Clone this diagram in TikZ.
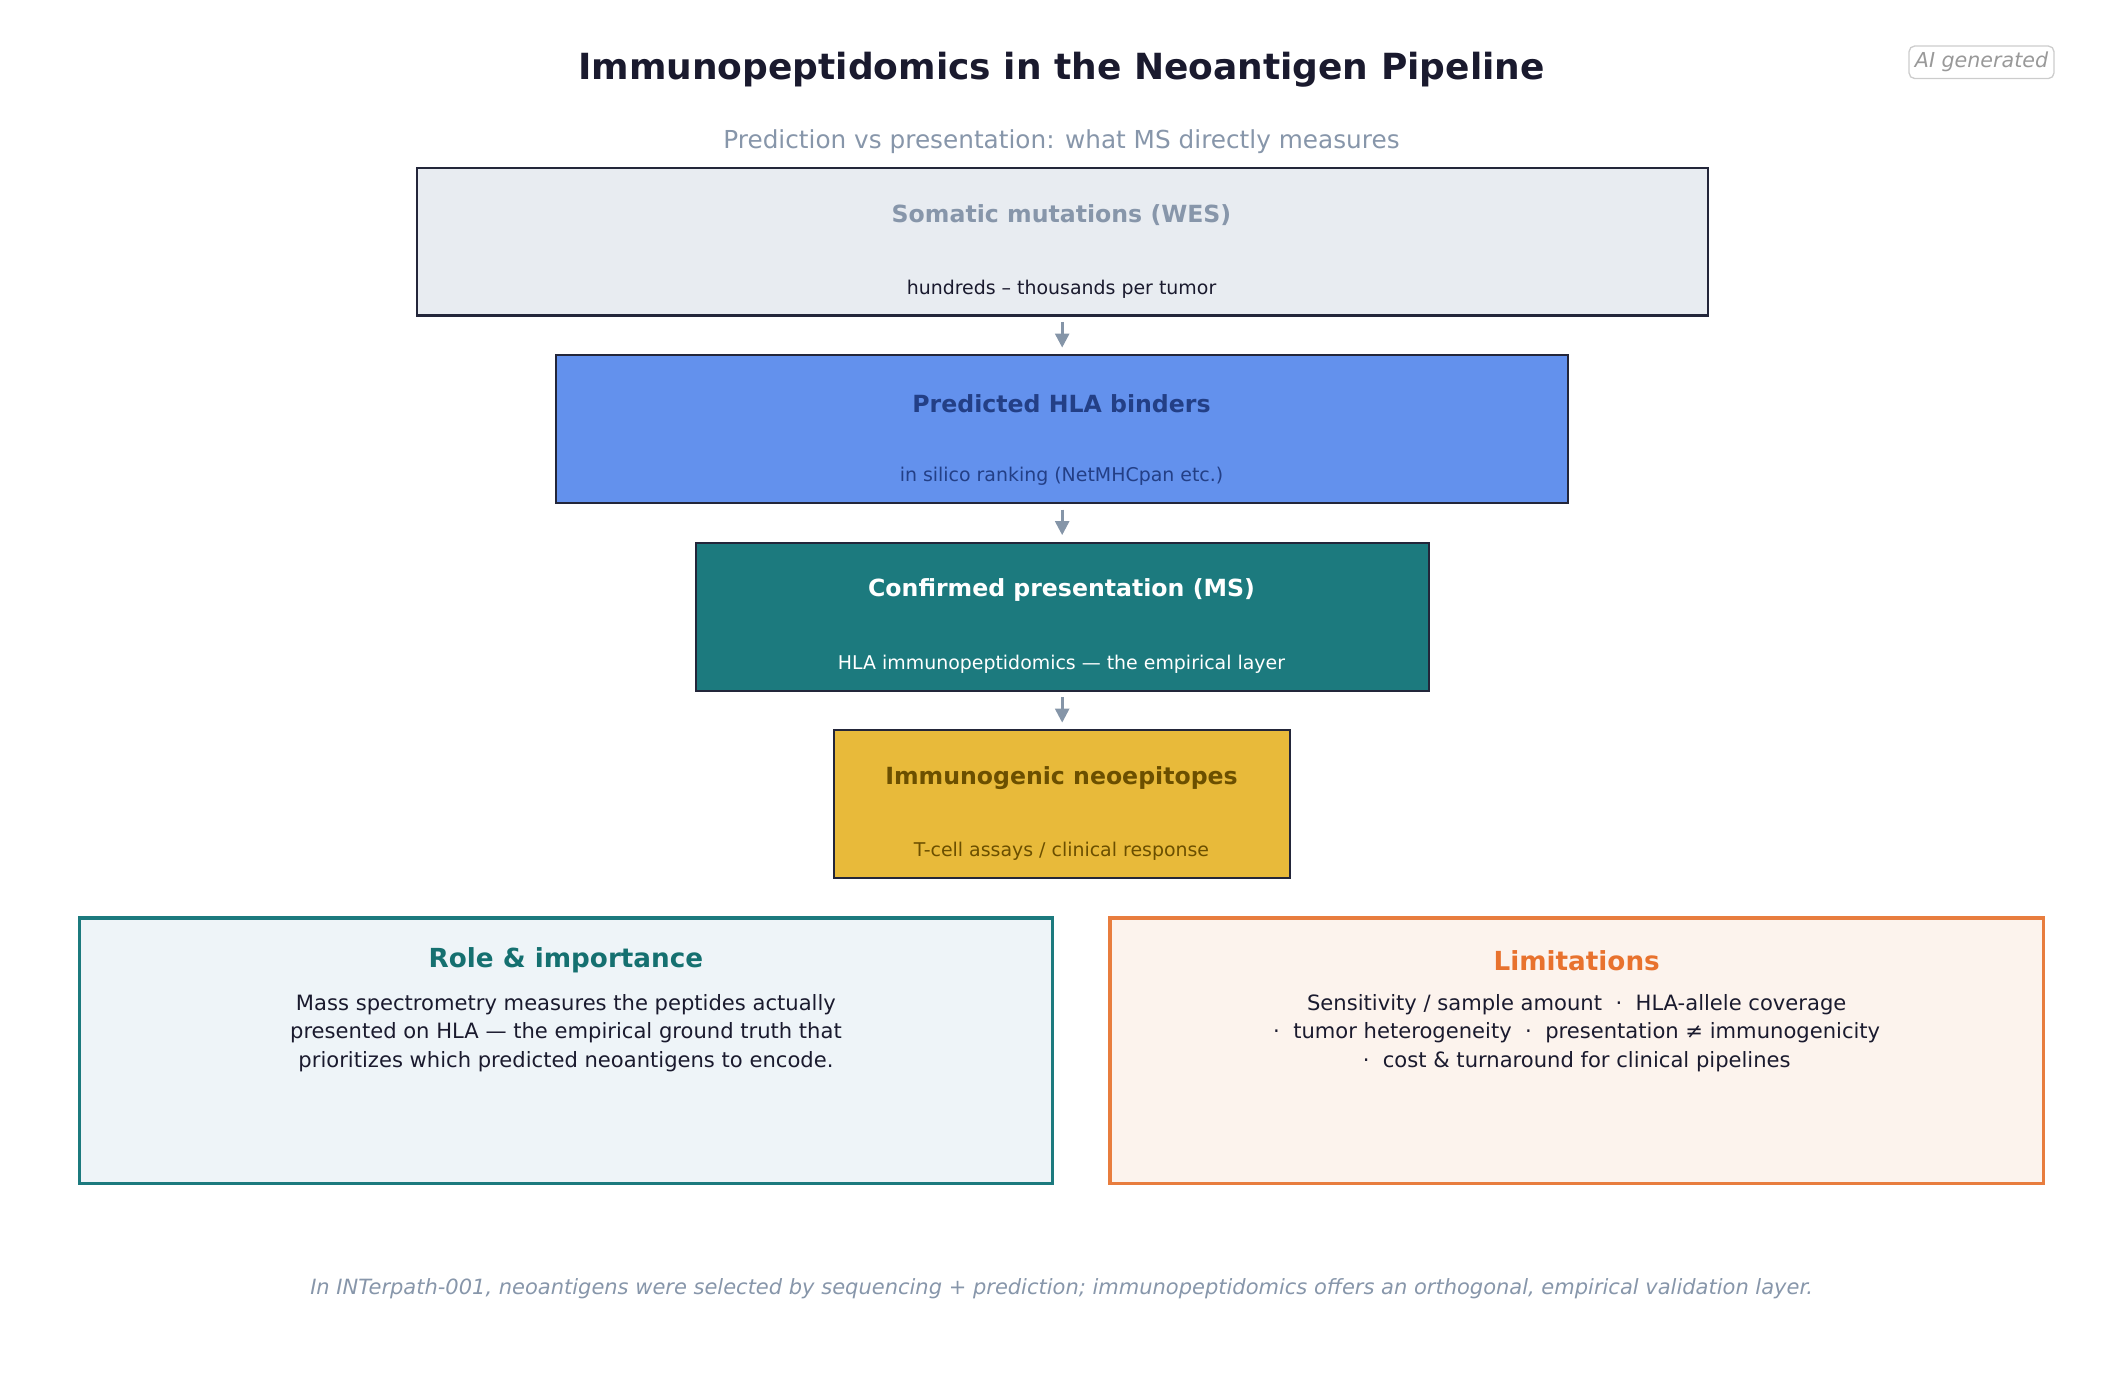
\documentclass[tikz,border=0pt]{standalone}
\usepackage{fontspec}
\setmainfont{DejaVu Sans}
\usepackage{xcolor}
\usetikzlibrary{positioning,shapes,arrows.meta}

\definecolor{ink}{HTML}{1A1A2E}
\definecolor{slate}{HTML}{8796AA}
\definecolor{edge}{HTML}{23263A}
\definecolor{wes}{HTML}{E8ECF1}
\definecolor{hla}{HTML}{6391ED}
\definecolor{hlaT}{HTML}{233F86}
\definecolor{ms}{HTML}{1C7A7E}
\definecolor{neo}{HTML}{E8BA3A}
\definecolor{neoT}{HTML}{6B4F00}
\definecolor{roleF}{HTML}{EEF4F8}
\definecolor{roleT}{HTML}{157070}
\definecolor{limF}{HTML}{FCF3ED}
\definecolor{limE}{HTML}{E87D3E}
\definecolor{limT}{HTML}{E8722E}
\definecolor{arrowc}{HTML}{8595A8}

\begin{document}
\begin{tikzpicture}[x=0.01in,y=-0.01in]
\useasboundingbox (0,0) rectangle (1568,1021.5);
\tikzstyle{stage}=[draw=edge,line width=1.1pt,minimum height=1.09in,inner sep=0pt]
\tikzstyle{head}=[inner sep=0pt,font=\bfseries\fontsize{12.6}{15}\selectfont]
\tikzstyle{sub}=[inner sep=0pt,font=\fontsize{10.1}{12}\selectfont]
\tikzstyle{panel}=[line width=1.8pt,minimum height=1.96in,inner sep=0pt]
\tikzstyle{ptitle}=[inner sep=0pt,font=\bfseries\fontsize{14}{17}\selectfont]
\tikzstyle{pbody}=[inner sep=0pt,align=center,text=ink,font=\fontsize{11.25}{15.1}\selectfont]
\tikzstyle{flow}=[draw=arrowc,line width=1.4pt,shorten <=2.9pt,shorten >=3.6pt,-{Triangle[length=7.5pt,width=7.5pt]}]

\node[text=ink,font=\bfseries\fontsize{19.2}{23}\selectfont] (title) at (784,51.5) {Immunopeptidomics in the Neoantigen Pipeline};
\node[text=slate,font=\fontsize{13.2}{16}\selectfont] (subtitle) at (784,104.5) {Prediction vs presentation: what MS directly measures};
\node[draw=black!20,line width=0.7pt,rounded corners=3pt,text=black!40,font=\itshape\fontsize{11}{13}\selectfont,minimum width=1.07in,minimum height=0.24in,inner sep=0pt] (ai) at (1463.5,46) {AI generated};

% pipeline
\node[stage,fill=wes,minimum width=9.53in] (s1) at (784.5,178.5) {};
\node[head,text=slate] (h1) at (784,159) {Somatic mutations (WES)};
\node[sub,text=ink] (d1) at (784,213.5) {hundreds – thousands per tumor};

\node[stage,fill=hla,minimum width=7.47in] (s2) at (784.5,317) {};
\node[head,text=hlaT] (h2) at (784,298) {Predicted HLA binders};
\node[sub,text=hlaT] (d2) at (784,351.5) {in silico ranking (NetMHCpan etc.)};

\node[stage,fill=ms,minimum width=5.41in] (s3) at (784.5,455.5) {};
\node[head,text=white] (h3) at (784,436) {Confirmed presentation (MS)};
\node[sub,text=white] (d3) at (784,490.5) {HLA immunopeptidomics — the empirical layer};

\node[stage,fill=neo,minimum width=3.37in] (s4) at (784.5,594) {};
\node[head,text=neoT] (h4) at (784,575) {Immunogenic neoepitopes};
\node[sub,text=neoT] (d4) at (784,628.5) {T-cell assays / clinical response};

\foreach \i/\j in {1/2,2/3,3/4}
  \draw[flow] (s\i) -- (s\j);

% panels
\node[panel,draw=ms,fill=roleF,minimum width=7.18in] (role) at (418,776) {};
\node[ptitle,text=roleT] (roleh) at (418,709.5) {Role \& importance};
\node[pbody] (roleb) at (418,763) {Mass spectrometry measures the peptides actually\\presented on HLA — the empirical ground truth that\\prioritizes which predicted neoantigens to encode.};

\node[panel,draw=limE,fill=limF,minimum width=6.89in] (lim) at (1164.5,776) {};
\node[ptitle,text=limT] (limh) at (1164.5,709.5) {Limitations};
\node[pbody] (limb) at (1164.5,763) {Sensitivity / sample amount~~·~~HLA-allele coverage\\·~~tumor heterogeneity~~·~~presentation ≠ immunogenicity\\·~~cost \& turnaround for clinical pipelines};

\node[text=slate,font=\itshape\fontsize{11.2}{13}\selectfont] (note) at (784,951.5) {In INTerpath-001, neoantigens were selected by sequencing + prediction; immunopeptidomics offers an orthogonal, empirical validation layer.};
\end{tikzpicture}
\end{document}
